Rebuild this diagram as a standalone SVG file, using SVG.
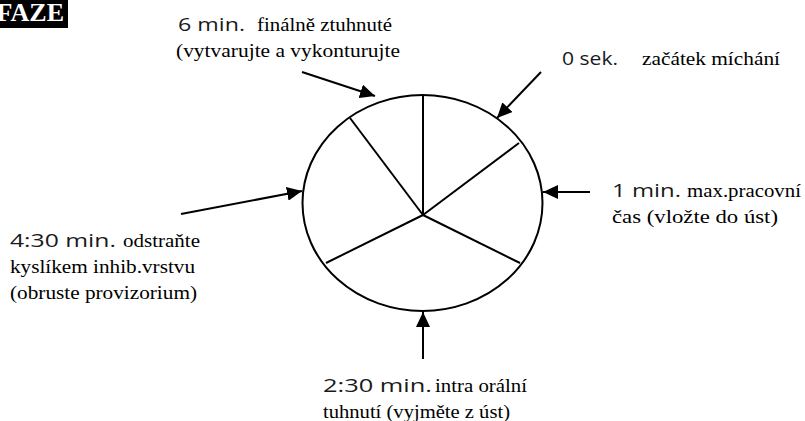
<svg xmlns="http://www.w3.org/2000/svg" width="805" height="421" viewBox="0 0 805 421">
<defs>
<marker id="ah" markerUnits="userSpaceOnUse" markerWidth="16" markerHeight="14" refX="15" refY="7" orient="auto">
<path d="M0,0 L15,7 L0,14 Z" fill="#000"/>
</marker>
<style>
.ln{stroke:#000;stroke-width:2;fill:none}
.sans{font-family:'Open Sans','DejaVu Sans',sans-serif;font-weight:400;font-size:19px;fill:#1a1a1a}
.ser{font-family:'Liberation Serif','Times New Roman',serif;font-size:18.5px;fill:#000}
.ttl{font-family:'Liberation Serif','Times New Roman',serif;font-weight:bold;font-size:26px;fill:#fff}
.arr{stroke:#000;stroke-width:2;fill:none;marker-end:url(#ah)}
</style>
</defs>
<rect width="805" height="421" fill="#fff"/>
<g id="title">
<rect x="0" y="0" width="68" height="28" fill="#000"/>
<text class="ttl" x="64" y="21" text-anchor="end">FAZE</text>
</g>
<g id="pie">
<ellipse class="ln" cx="422.5" cy="203" rx="120" ry="108"/>
<line class="ln" x1="423" y1="215" x2="423" y2="95"/>
<line class="ln" x1="423" y1="215" x2="519" y2="143"/>
<line class="ln" x1="423" y1="215" x2="520" y2="263"/>
<line class="ln" x1="423" y1="215" x2="326" y2="263"/>
<line class="ln" x1="423" y1="215" x2="350" y2="118"/>
</g>
<g id="connectors">
<line class="arr" x1="541" y1="72" x2="497" y2="118"/>
<line class="arr" x1="590" y1="192" x2="543" y2="192"/>
<line class="arr" x1="423" y1="359" x2="423" y2="312"/>
<line class="arr" x1="181" y1="214" x2="302" y2="191"/>
<line class="arr" x1="302" y1="72" x2="375" y2="96"/>
</g>
<g id="label-0sek">
<text class="sans" x="562" y="65" textLength="56" lengthAdjust="spacingAndGlyphs">0 sek.</text>
<text class="ser" x="642" y="65" textLength="138" lengthAdjust="spacingAndGlyphs">začátek míchání</text>
</g>
<g id="label-1min">
<text class="sans" x="612" y="197" textLength="69" lengthAdjust="spacingAndGlyphs">1 min.</text>
<text class="ser" x="687" y="197" textLength="114" lengthAdjust="spacingAndGlyphs">max.pracovní</text>
<text class="ser" x="612" y="223" textLength="166" lengthAdjust="spacingAndGlyphs">čas (vložte do úst)</text>
</g>
<g id="label-230">
<text class="sans" x="323" y="392" textLength="109" lengthAdjust="spacingAndGlyphs">2:30 min.</text>
<text class="ser" x="435" y="392" textLength="92" lengthAdjust="spacingAndGlyphs">intra orální</text>
<text class="ser" x="323" y="418" textLength="187" lengthAdjust="spacingAndGlyphs">tuhnutí (vyjměte z úst)</text>
</g>
<g id="label-430">
<text class="sans" x="10" y="247" textLength="106" lengthAdjust="spacingAndGlyphs">4:30 min.</text>
<text class="ser" x="123" y="247" textLength="77" lengthAdjust="spacingAndGlyphs">odstraňte</text>
<text class="ser" x="10" y="273" textLength="185" lengthAdjust="spacingAndGlyphs">kyslíkem inhib.vrstvu</text>
<text class="ser" x="10" y="299" textLength="187" lengthAdjust="spacingAndGlyphs">(obruste provizorium)</text>
</g>
<g id="label-6min">
<text class="sans" x="178" y="31" textLength="67" lengthAdjust="spacingAndGlyphs">6 min.</text>
<text class="ser" x="257" y="31" textLength="135" lengthAdjust="spacingAndGlyphs">finálně ztuhnuté</text>
<text class="ser" x="176" y="57" textLength="224" lengthAdjust="spacingAndGlyphs">(vytvarujte a vykonturujte</text>
</g>
</svg>
